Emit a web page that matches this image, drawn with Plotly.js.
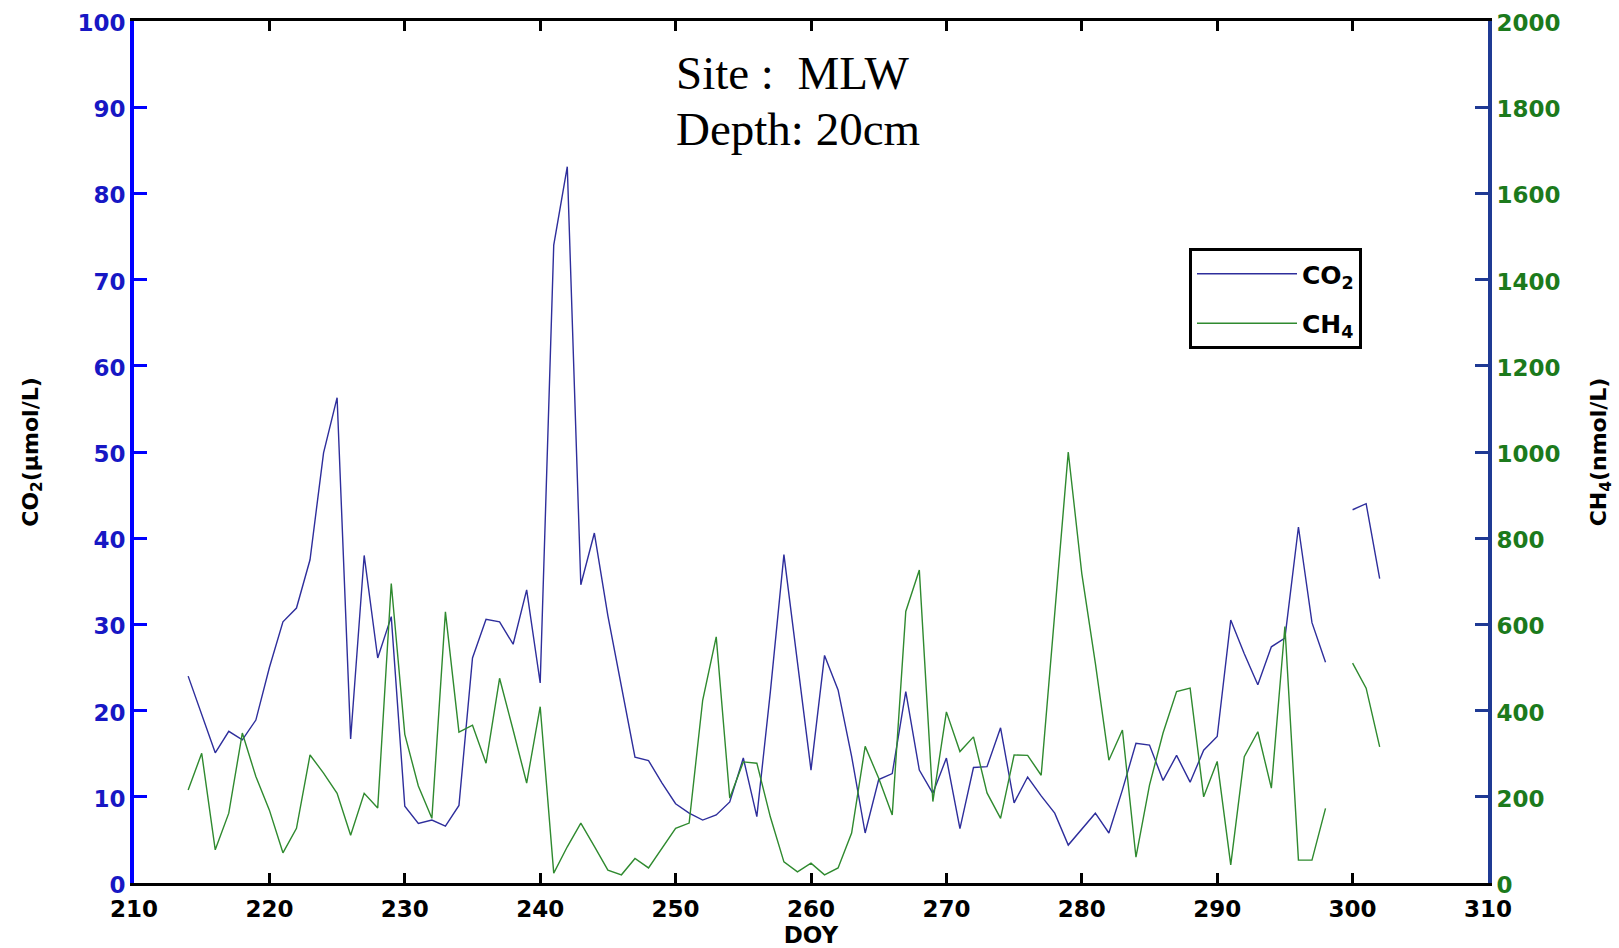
<!DOCTYPE html>
<html>
<head>
<meta charset="utf-8">
<script src="https://cdn.plot.ly/plotly-3.0.1.min.js"></script>
<style>
  html, body { margin: 0; padding: 0; background: #ffffff; }
  #chart { width: 1619px; height: 948px; }
</style>
</head>
<body>
<div id="chart"></div>
<script>
// Day of year
const doy = [214,215,216,217,218,219,220,221,222,223,224,225,226,227,228,229,230,231,232,233,234,235,236,237,238,239,240,241,242,243,244,245,246,247,248,249,250,251,252,253,254,255,256,257,258,259,260,261,262,263,264,265,266,267,268,269,270,271,272,273,274,275,276,277,278,279,280,281,282,283,284,285,286,287,288,289,290,291,292,293,294,295,296,297,298,299,300,301,302];

// CO2 (umol/L), left axis
const co2 = [24.0,19.5,15.1,17.6,16.6,18.9,25.0,30.3,31.9,37.5,49.9,56.3,16.7,38.0,26.1,30.9,8.9,6.9,7.3,6.6,9.0,26.1,30.6,30.3,27.7,34.0,23.2,74.0,83.1,34.6,40.6,31.0,22.8,14.6,14.2,11.6,9.2,8.1,7.3,7.9,9.4,14.5,7.7,22.2,38.1,25.7,13.1,26.4,22.4,14.7,5.8,12.0,12.7,22.2,13.1,10.4,14.5,6.3,13.4,13.5,18.0,9.3,12.3,10.1,8.1,4.4,6.3,8.1,5.8,10.8,16.2,16.0,11.9,14.8,11.7,15.4,17.0,30.5,26.6,23.0,27.4,28.4,41.3,30.2,25.6,null,43.3,44.0,35.3];

// CH4 (nmol/L), right axis
const ch4 = [216,301,77,162,348,247,169,70,127,297,255,208,111,208,174,695,345,225,150,629,350,366,278,475,355,232,409,23,84,139,85,30,19,57,35,80,127,139,424,571,197,281,278,153,49,26,46,19,35,116,317,243,158,630,726,189,397,305,339,209,150,297,296,250,620,1000,718,510,285,355,60,227,348,444,452,200,282,42,293,351,220,595,53,53,173,null,510,452,316];

const seriesNames = ["CO<sub>2</sub>", "CH<sub>4</sub>"];
const xTicks = [210,220,230,240,250,260,270,280,290,300,310];
const yTicks = [0,10,20,30,40,50,60,70,80,90,100];
const y2Ticks = [0,200,400,600,800,1000,1200,1400,1600,1800,2000];

const FONT = "DejaVu Sans, Arial, sans-serif";

const traces = [
  {
    x: doy, y: co2, name: seriesNames[0], type: "scatter", mode: "lines",
    line: {color: "#2e2e9c", width: 1.4}, connectgaps: false, yaxis: "y",
    legendgroup: "a"
  },
  {
    x: doy, y: ch4, name: seriesNames[1], type: "scatter", mode: "lines",
    line: {color: "#2f8a2f", width: 1.4}, connectgaps: false, yaxis: "y2",
    legendgroup: "b"
  }
];

const layout = {
  width: 1619, height: 948,
  paper_bgcolor: "#ffffff", plot_bgcolor: "#ffffff",
  margin: {l: 134, r: 131, t: 21, b: 65},
  showlegend: true,
  legend: {
    x: (1189-134)/1354, y: (883-248)/862, xanchor: "left", yanchor: "top",
    bgcolor: "#ffffff", bordercolor: "#000000", borderwidth: 3,
    font: {family: FONT, size: 25, color: "#000000", weight: "bold"},
    itemwidth: 100, tracegroupgap: 14
  },
  xaxis: {
    range: [210, 310], tickvals: xTicks, ticktext: xTicks.map(String),
    ticks: "inside", ticklen: 10, tickwidth: 3, tickcolor: "#000000",
    showline: true, linewidth: 3, linecolor: "#000000", mirror: "ticks",
    showgrid: false, zeroline: false, ticklabelstandoff: 3,
    tickfont: {family: FONT, size: 23, color: "#000000", weight: "bold"},
    title: {text: "DOY", font: {family: FONT, size: 23, color: "#000000", weight: "bold"}, standoff: 4}
  },
  yaxis: {
    range: [0, 100], tickvals: yTicks, ticktext: yTicks.map(String),
    ticks: "inside", ticklen: 13, tickwidth: 3, tickcolor: "#0000ff",
    showline: true, linewidth: 4, linecolor: "#0000ff",
    showgrid: false, zeroline: false, ticklabelshift: 2,
    tickfont: {family: FONT, size: 23, color: "#1717c4", weight: "bold"},
    title: {text: "CO<sub>2</sub>(µmol/L)", font: {family: FONT, size: 22, color: "#000000", weight: "bold"}, standoff: 34}
  },
  yaxis2: {
    range: [0, 2000], tickvals: y2Ticks, ticktext: y2Ticks.map(String),
    overlaying: "y", side: "right",
    ticks: "inside", ticklen: 13, tickwidth: 3, tickcolor: "#1f3a94",
    showline: true, linewidth: 4, linecolor: "#1f3a94",
    showgrid: false, zeroline: false, ticklabelshift: 2,
    tickfont: {family: FONT, size: 23, color: "#1c7a1c", weight: "bold"},
    title: {text: "CH<sub>4</sub>(nmol/L)", font: {family: FONT, size: 22, color: "#000000", weight: "bold"}, standoff: 32}
  },
  annotations: [
    {text: "Site :&nbsp; MLW", xref: "paper", yref: "paper", x: (674-134)/1354, y: (883-73)/862,
     xanchor: "left", yanchor: "middle", showarrow: false,
     font: {family: "Liberation Serif, Times New Roman, serif", size: 47, color: "#000000"}},
    {text: "Depth: 20cm", xref: "paper", yref: "paper", x: (674-134)/1354, y: (883-129)/862,
     xanchor: "left", yanchor: "middle", showarrow: false,
     font: {family: "Liberation Serif, Times New Roman, serif", size: 47, color: "#000000"}}
  ]
};

Plotly.newPlot("chart", traces, layout, {displayModeBar: false, staticPlot: true});
</script>
</body>
</html>
